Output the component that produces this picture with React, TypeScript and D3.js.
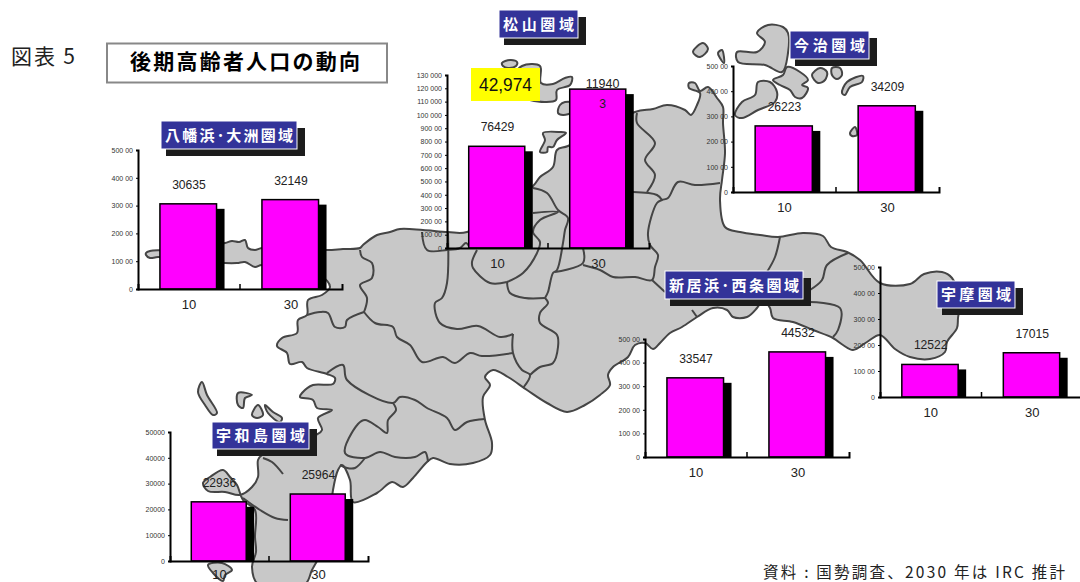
import React, { useEffect, useRef } from "react";
import * as d3 from "d3";

const years = ["10", "30"];

// 2010 / 2030 values per area
const yawatahamaValues = [30635, 32149];
const matsuyamaValues = [76429, 119403];
const imabariValues = [26223, 34209];
const niihamaValues = [33547, 44532];
const uwaValues = [12522, 17015];
const uwajimaValues = [22936, 25964];

const ticks50k = [0, 10000, 20000, 30000, 40000, 50000];
const ticks130k = [0, 10000, 20000, 30000, 40000, 50000, 60000, 70000, 80000, 90000, 100000, 110000, 120000, 130000];
const labels50k = ["0", "100 00", "200 00", "300 00", "400 00", "500 00"];
const labels130k = ["0", "100 00", "200 00", "300 00", "400 00", "500 00", "600 00", "700 00", "800 00", "900 00", "100 000", "110 000", "120 000", "130 000"];
const labelsUwajima = ["0", "10000", "20000", "30000", "40000", "50000"];

const FONT_JP = "'Noto Sans CJK JP', sans-serif";
const FONT_NUM = "'Liberation Sans', Arial, sans-serif";

const panels = [
  { name: "八幡浜･大洲圏域", values: yawatahamaValues, max: 50000, ticks: ticks50k, labels: labels50k, left: 138, right: 342, top: 150, base: 289, box: [161, 121, 136, 28] },
  { name: "松山圏域", values: matsuyamaValues, max: 130000, ticks: ticks130k, labels: labels130k, left: 447, right: 649, top: 75, base: 248, box: [499, 10, 79, 28] },
  { name: "今治圏域", values: imabariValues, max: 50000, ticks: ticks50k, labels: labels50k, left: 733, right: 939, top: 66, base: 192, box: [790, 31, 79, 28] },
  { name: "新居浜･西条圏域", values: niihamaValues, max: 50000, ticks: ticks50k, labels: labels50k, left: 645, right: 849, top: 339, base: 457, box: [665, 271, 138, 28] },
  { name: "宇摩圏域", values: uwaValues, max: 50000, ticks: ticks50k, labels: labels50k, left: 880, right: 1083, top: 267, base: 397, box: [937, 281, 78, 27] },
  { name: "宇和島圏域", values: uwajimaValues, max: 50000, ticks: ticks50k, labels: labelsUwajima, left: 170, right: 368, top: 432, base: 561, box: [212, 422, 97, 27] },
];

// backdrop map: coastline of the prefecture
const mainland: [number, number][] = [
  [146, 253], [150, 251], [165, 250], [200, 246], [225, 243], [232, 241], [239, 242], [245, 240], [248, 248], [255, 250], [262, 248], [295, 249],
  [327, 250], [343, 249], [360, 248], [363, 245], [377, 235], [390, 232], [400, 229], [423, 230], [448, 232], [467, 232], [533, 186], [540, 177],
  [553, 167], [557, 150], [568, 146], [635, 112], [653, 109], [667, 105], [685, 110], [691, 115], [697, 105], [700, 93], [689, 88], [689, 83],
  [695, 83], [700, 91], [708, 87], [717, 98], [723, 107], [723, 123], [725, 153], [722, 180], [720, 200], [725, 227], [740, 232], [760, 235],
  [778, 237], [803, 233], [823, 236], [831, 247], [847, 252], [860, 260], [880, 283], [910, 284], [924, 274], [942, 272], [952, 278], [960, 300],
  [958, 318], [957, 328], [947, 342], [945, 352], [930, 359], [910, 357], [895, 349], [880, 335], [867, 342], [853, 350], [843, 345], [833, 338],
  [813, 330], [793, 322], [773, 318], [770, 308], [763, 300], [757, 308], [747, 317], [733, 317], [727, 310], [713, 308], [697, 317], [682, 327],
  [670, 333], [660, 343], [653, 349], [645, 343], [635, 345], [628, 357], [613, 367], [608, 375], [610, 385], [600, 395], [585, 405], [567, 412],
  [547, 403], [527, 390], [508, 377], [493, 370], [485, 377], [490, 385], [483, 397], [485, 420], [492, 443], [490, 455], [473, 463], [450, 464],
  [433, 458], [427, 462], [413, 478], [403, 487], [392, 482], [377, 493], [353, 502], [350, 480], [342, 465], [338, 470], [333, 490], [330, 520],
  [325, 545], [312, 570], [305, 584], [258, 584], [252, 567], [256, 552], [255, 537], [255, 510], [243, 500], [237, 485], [230, 477], [223, 470],
  [210, 477], [203, 483], [208, 491], [225, 492], [240, 495], [252, 487], [258, 477], [258, 460], [262, 455], [316, 435], [322, 430], [318, 418],
  [332, 410], [317, 408], [313, 400], [300, 397], [302, 393], [313, 385], [333, 384], [335, 378], [327, 374], [307, 368], [302, 362], [290, 364],
  [287, 353], [277, 346], [282, 338], [297, 333], [298, 320], [307, 315], [308, 300], [322, 295], [330, 287], [320, 275], [262, 265], [255, 267],
  [245, 262], [237, 263], [225, 263], [190, 260], [158, 257], [150, 258], [146, 255],
];

const islands: [number, number][][] = [
  [[502, 63], [510, 60], [517, 62], [516, 66], [508, 68], [503, 66]],
  [[522, 66], [540, 66], [541, 83], [553, 84], [565, 78], [572, 77], [570, 85], [557, 90], [556, 100], [545, 102], [530, 100], [515, 95], [515, 75]],
  [[558, 113], [560, 105], [565, 102], [572, 103], [572, 112], [563, 115]],
  [[543, 133], [560, 132], [566, 133], [557, 140], [553, 147], [548, 147], [547, 152], [540, 152], [545, 140]],
  [[737, 52], [757, 52], [765, 42], [757, 33], [768, 25], [783, 27], [788, 33], [788, 53], [782, 72], [765, 65], [738, 62]],
  [[773, 80], [783, 75], [787, 67], [800, 72], [808, 80], [802, 85], [808, 88], [802, 98], [795, 97], [790, 90], [780, 85]],
  [[735, 115], [742, 102], [755, 95], [758, 82], [770, 82], [777, 92], [775, 102], [758, 110], [742, 118]],
  [[812, 75], [820, 68], [827, 72], [825, 80], [818, 83]],
  [[832, 68], [840, 68], [842, 75], [837, 79], [832, 75]],
  [[842, 93], [847, 82], [863, 76], [862, 82], [850, 87], [845, 95]],
  [[693, 52], [703, 43], [708, 49], [700, 57]],
  [[718, 53], [722, 50], [724, 63], [720, 58]],
  [[850, 133], [855, 127], [857, 135], [852, 136]],
  [[198, 392], [202, 382], [207, 395], [217, 413], [213, 415], [205, 405]],
  [[238, 393], [252, 395], [245, 398], [243, 408], [238, 405]],
  [[252, 415], [258, 405], [263, 415], [257, 418]],
  [[265, 405], [273, 412], [282, 418], [280, 422], [268, 413]],
  [[208, 565], [222, 563], [232, 570], [225, 575], [223, 581], [213, 573]],
];

// inner municipal borders
const borders: [number, number][][] = [
  [[360, 250], [362, 257], [372, 263], [372, 278], [360, 285], [367, 298], [364, 312]],
  [[364, 312], [347, 320], [345, 327], [335, 327], [328, 313], [320, 312], [307, 315]],
  [[364, 312], [375, 323], [393, 327], [397, 337], [410, 345], [422, 362], [443, 357], [455, 363], [470, 353], [482, 356], [513, 353]],
  [[513, 334], [513, 353], [522, 370], [530, 375], [523, 388]],
  [[448, 232], [447, 283], [442, 298], [435, 303], [440, 323], [457, 329], [478, 326], [500, 337], [513, 334]],
  [[530, 375], [540, 367], [553, 363], [558, 347], [557, 335], [540, 323], [540, 313], [548, 303], [545, 298]],
  [[545, 298], [525, 298], [510, 293], [507, 282]],
  [[507, 282], [490, 283], [473, 268], [472, 262], [477, 250]],
  [[507, 282], [523, 273], [537, 253], [540, 242], [533, 232], [540, 220], [558, 212], [533, 213]],
  [[533, 188], [547, 193], [558, 210], [568, 218], [565, 230], [563, 243], [557, 270], [553, 273], [548, 292], [545, 298]],
  [[555, 272], [583, 263], [583, 248]],
  [[583, 265], [600, 270], [613, 277], [635, 277], [652, 280], [655, 267], [658, 255], [650, 245], [648, 233], [657, 203], [662, 200], [668, 198], [678, 182], [695, 185], [720, 183]],
  [[652, 280], [665, 292]],
  [[637, 113], [637, 123], [655, 143], [645, 160], [655, 175], [647, 192]],
  [[633, 192], [657, 195], [662, 200]],
  [[780, 237], [775, 257], [767, 272]],
  [[848, 253], [827, 265], [822, 280], [810, 290]],
  [[810, 302], [840, 308], [838, 330], [833, 337]],
  [[692, 310], [697, 317]],
  [[422, 232], [427, 250], [447, 250], [460, 248], [466, 243], [470, 248]],
  [[327, 373], [343, 365], [347, 380], [393, 403], [400, 397], [415, 400], [427, 408], [447, 418], [455, 430], [467, 422], [485, 419]],
  [[393, 403], [396, 410], [388, 420], [387, 433], [378, 427], [365, 420], [358, 424], [345, 453], [365, 458], [380, 452], [395, 457], [415, 457], [425, 452], [428, 462]],
  [[365, 458], [355, 468], [347, 468], [340, 465]],
  [[243, 498], [260, 510], [275, 518], [288, 520]],
  [[263, 458], [272, 462], [283, 474]],
];

function App() {
  const ref = useRef<SVGSVGElement>(null);

  useEffect(() => {
    const svg = d3.select(ref.current);
    svg.selectAll("*").remove();

    svg.append("defs").append("filter").attr("id", "soft").append("feGaussianBlur").attr("stdDeviation", 0.45);

    // map
    const closed = d3.line().curve(d3.curveCatmullRomClosed.alpha(0.5));
    const open = d3.line().curve(d3.curveCatmullRom.alpha(0.5));
    const map = svg.append("g").attr("filter", "url(#soft)").attr("stroke", "#444").attr("stroke-width", 2).attr("stroke-linejoin", "round");
    map.selectAll(".land").data([mainland, ...islands]).join("path").attr("class", "land").attr("d", (d) => closed(d)).attr("fill", "#c8c8c8");
    map.selectAll(".border").data(borders).join("path").attr("class", "border").attr("d", (d) => open(d)).attr("fill", "none");

    // header
    svg.append("text").attr("x", 11).attr("y", 64).attr("textLength", 64).attr("font-family", FONT_JP).attr("font-size", 21).attr("fill", "#222").text("図表 5");
    svg.append("rect").attr("x", 107).attr("y", 43.5).attr("width", 280).attr("height", 39).attr("fill", "#fff").attr("stroke", "#888").attr("stroke-width", 2);
    svg.append("text").attr("x", 130).attr("y", 69).attr("textLength", 230).attr("font-family", FONT_JP).attr("font-weight", 700).attr("font-size", 21).attr("fill", "#000").text("後期高齢者人口の動向");

    panels.forEach((p) => {
      const g = svg.append("g");
      const x = d3.scaleBand().domain(years).range([p.left, p.right]);
      const y = d3.scaleLinear().domain([0, p.max]).range([p.base, p.top]);
      const barW = x.bandwidth() * 0.555;
      const barX = (i: number) => x(years[i])! + x.bandwidth() * 0.215;

      // drop shadow of each bar
      g.selectAll(".shadow").data(p.values).join("rect").attr("class", "shadow")
        .attr("x", (d, i) => barX(i) + 8).attr("y", (d) => y(d) + 5)
        .attr("width", barW).attr("height", (d) => p.base - y(d) - 5).attr("fill", "#000");

      g.selectAll(".bar").data(p.values).join("rect").attr("class", "bar")
        .attr("x", (d, i) => barX(i)).attr("y", (d) => y(d))
        .attr("width", barW).attr("height", (d) => p.base - y(d))
        .attr("fill", "#ff00ff").attr("stroke", "#000").attr("stroke-width", 1.5);

      const yAxis = g.append("g").attr("transform", `translate(${p.left},0)`)
        .call(d3.axisLeft(y).tickValues(p.ticks).tickSize(2).tickPadding(3).tickFormat((d, i) => p.labels[i]));
      yAxis.select(".domain").attr("stroke", "#000").attr("stroke-width", 2);
      yAxis.selectAll("text").attr("font-family", FONT_NUM).attr("font-size", 7).attr("fill", "#333");

      // the bottom panel has little room above the page edge
      const xAxis = g.append("g").attr("transform", `translate(0,${p.base})`)
        .call(d3.axisBottom(x).tickSize(0).tickSizeOuter(-5).tickPadding(p.base > 500 ? 8 : 10));
      xAxis.select(".domain").attr("stroke", "#000").attr("stroke-width", 2);
      xAxis.selectAll("text").attr("font-family", FONT_NUM).attr("font-size", 13.5).attr("fill", "#222")
        .attr("textLength", 14.5).attr("lengthAdjust", "spacingAndGlyphs");
      g.append("line").attr("x1", x(years[1])!).attr("x2", x(years[1])!).attr("y1", p.base).attr("y2", p.base - 5).attr("stroke", "#000").attr("stroke-width", 1.5);

      // value labels; the long one wraps like in the source
      p.values.forEach((v, i) => {
        const s = String(v);
        const lines = s.length > 5 ? [s.slice(0, 5), s.slice(5)] : [s];
        lines.forEach((t, k) => {
          g.append("text").attr("x", x(years[i])! + x.bandwidth() / 2 + (lines.length > 1 ? 4 : 0)).attr("y", y(v) - (lines.length > 1 ? 1 : 15) + k * 20)
            .attr("text-anchor", "middle").attr("font-family", FONT_NUM).attr("font-size", 13.5).attr("fill", "#222")
            .attr("textLength", t.length * 6.75).attr("lengthAdjust", "spacingAndGlyphs").text(t);
        });
      });

      // area name plate
      const [bx, by, bw, bh] = p.box;
      g.append("rect").attr("x", bx + 5).attr("y", by + 7).attr("width", bw + 3).attr("height", bh).attr("fill", "#1c1c1c");
      g.append("rect").attr("x", bx).attr("y", by).attr("width", bw).attr("height", bh).attr("fill", "#333399").attr("stroke", "#fff").attr("stroke-width", 1);
      g.append("text").attr("x", bx + 4).attr("y", by + bh / 2 + 5.5).attr("textLength", bw - 8).attr("font-family", FONT_JP).attr("font-weight", 700).attr("font-size", 15).attr("fill", "#fff").text(p.name);
    });

    // yellow callout
    svg.append("rect").attr("x", 471).attr("y", 68).attr("width", 69).attr("height", 33).attr("fill", "#ffff00");
    svg.append("text").attr("x", 505.5).attr("y", 91).attr("text-anchor", "middle").attr("font-family", FONT_NUM).attr("font-size", 18).attr("fill", "#111")
      .attr("textLength", 53).attr("lengthAdjust", "spacingAndGlyphs").text("42,974");

    // source note
    svg.append("text").attr("x", 763).attr("y", 578).attr("textLength", 302).attr("font-family", FONT_JP).attr("font-size", 15.5).attr("fill", "#222").text("資料 : 国勢調査、2030 年は IRC 推計");
  }, []);

  return <svg ref={ref} width={1080} height={582} style={{ position: "absolute", left: 0, top: 0, background: "#fff" }} />;
}

export default App;
